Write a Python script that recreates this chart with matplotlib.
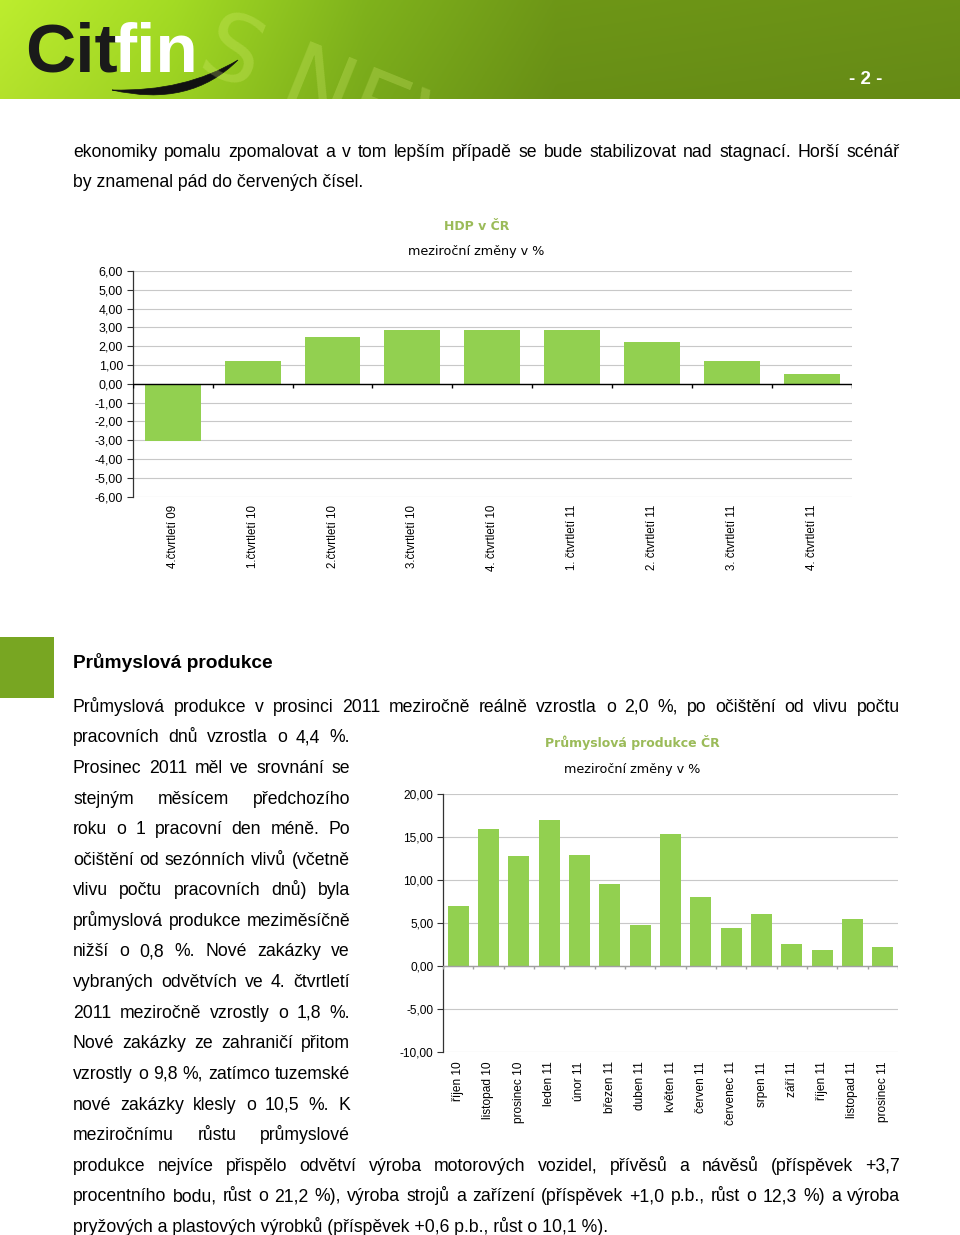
import numpy as np
import matplotlib
matplotlib.use("Agg")
import matplotlib.pyplot as plt
from matplotlib.patches import Rectangle, PathPatch
from matplotlib.path import Path

# page size in pixels
W, H = 960, 1235

# HDP v ČR - year-on-year change in %
hdp_labels = ["4.čtvrtletí 09", "1.čtvrtletí 10", "2.čtvrtletí 10", "3.čtvrtletí 10",
              "4. čtvrtletí 10", "1. čtvrtletí 11", "2. čtvrtletí 11", "3. čtvrtletí 11",
              "4. čtvrtletí 11"]
hdp_values = [-3.05, 1.24, 2.48, 2.85, 2.85, 2.85, 2.23, 1.24, 0.51]

# Průmyslová produkce ČR - year-on-year change in %
prum_labels = ["říjen 10", "listopad 10", "prosinec 10", "leden 11", "únor 11", "březen 11",
               "duben 11", "květen 11", "červen 11", "červenec 11", "srpen 11", "září 11",
               "říjen 11", "listopad 11", "prosinec 11"]
prum_values = [7.0, 15.9, 12.75, 16.95, 12.95, 9.55, 4.8, 15.3, 8.0, 4.45, 6.0, 2.5, 1.8, 5.45, 2.15]

BAR_GREEN = "#92D050"
TITLE_GREEN = "#9BBB59"
BODY = dict(fontsize=12.7, family="Liberation Sans", va="baseline", color="black")

fig = plt.figure(figsize=(W / 100, H / 100), dpi=100)
renderer = fig.canvas.get_renderer()


def fx(px):
    return px / W


def fy(py):
    return 1 - py / H


def line(text, x0, y, x1=None, **kw):
    """Write one line of body text; justify it between x0 and x1 if x1 is given."""
    kw = {**BODY, **kw}
    if x1 is None:
        fig.text(fx(x0), fy(y), text, **kw)
        return
    words = text.split(" ")
    objs = [fig.text(0, fy(y), w, **kw) for w in words]
    widths = [o.get_window_extent(renderer).width for o in objs]
    gap = (x1 - x0 - sum(widths)) / (len(words) - 1)
    x = x0
    for o, w in zip(objs, widths):
        o.set_x(fx(x))
        x += w + gap


# ---- header banner ----
hdr = fig.add_axes([0, fy(99), 1, 99 / H])
xs = np.linspace(0, 1, 400)
stops = [0.0, 0.18, 0.38, 0.58, 1.0]
cols = np.array([[0.74, 0.93, 0.18], [0.64, 0.86, 0.14], [0.50, 0.70, 0.11],
                 [0.43, 0.59, 0.09], [0.42, 0.57, 0.09]])
row = np.stack([np.interp(xs, stops, cols[:, c]) for c in range(3)], axis=1)
shade = np.linspace(1.0, 0.95, 60)[:, None, None]
grad = np.clip(row[None, :, :] * shade, 0, 1)
hdr.imshow(grad, extent=[0, W, 99, 0], aspect="auto")
hdr.set_xlim(0, W)
hdr.set_ylim(99, 0)
hdr.axis("off")
hdr.text(222, 2, "S NEWS", fontsize=66, color="#DDF27A", alpha=0.25, rotation=-22,
         family="DejaVu Sans", ha="left", va="top", rotation_mode="anchor", clip_on=True)
cit = hdr.text(25, 72, "Cit", fontsize=50, weight="bold", color="#1A1A1A",
               family="Liberation Sans", va="baseline")
cw = cit.get_window_extent(renderer).width
hdr.text(25 + cw - 4, 72, "fin", fontsize=50, weight="bold", color="white",
         family="Liberation Sans", va="baseline")
swoosh = Path([(112, 90), (190, 108), (238, 60), (185, 92), (112, 90)],
              [Path.MOVETO, Path.CURVE3, Path.CURVE3, Path.CURVE3, Path.CURVE3])
hdr.add_patch(PathPatch(swoosh, facecolor="#111111", edgecolor="#111111", lw=0.5))
hdr.text(866, 84, "- 2 -", color="white", weight="bold", fontsize=13.5,
         family="Liberation Sans", ha="center", va="baseline")

# ---- text above first chart ----
line("ekonomiky pomalu zpomalovat a v tom lepším případě se bude stabilizovat nad stagnací. Horší scénář",
     73, 156.7, 900)
line("by znamenal pád do červených čísel.", 73, 187.3)

# ---- chart 1: HDP v ČR ----
fig.text(fx(477), fy(227), "HDP v ČR", color=TITLE_GREEN, weight="bold", fontsize=9,
         family="DejaVu Sans", ha="center", va="center")
fig.text(fx(476), fy(252), "meziroční změny v %", color="black", fontsize=9.2,
         family="DejaVu Sans", ha="center", va="center")

ax1 = fig.add_axes([fx(132.7), fy(496.7), (852 - 132.7) / W, (496.7 - 271) / H])
x1 = np.arange(len(hdp_values))
ax1.bar(x1, hdp_values, width=0.7, color=BAR_GREEN, zorder=3)
ax1.set_xlim(-0.5, len(x1) - 0.5)
ax1.set_ylim(-6, 6)
ax1.set_yticks(np.arange(-6, 7, 1))
ax1.yaxis.set_major_formatter(lambda v, p: f"{v:.2f}".replace(".", ","))
ax1.grid(axis="y", color="#C8C8C8", lw=0.8)
ax1.set_axisbelow(True)
ax1.axhline(0, color="black", lw=1, zorder=4)
ax1.vlines(np.arange(len(x1) + 1) - 0.5, -0.22, 0, color="black", lw=1, zorder=4)
ax1.set_xticks(x1, hdp_labels, rotation=90, va="top", ha="center")
ax1.tick_params(axis="x", length=0, pad=6, labelsize=8.3)
ax1.tick_params(axis="y", length=4, width=0.8, pad=3, labelsize=9, color="#333333")
for lab in ax1.get_xticklabels() + ax1.get_yticklabels():
    lab.set_family("Liberation Sans")
for s in ["top", "right", "bottom"]:
    ax1.spines[s].set_visible(False)
ax1.spines["left"].set_color("#333333")
ax1.spines["left"].set_linewidth(0.9)

# ---- section heading ----
fig.patches.append(Rectangle((0, fy(697.7)), fx(54), 60.7 / H, transform=fig.transFigure,
                             facecolor="#78A622", edgecolor="none"))
line("Průmyslová produkce", 73, 668.3, fontsize=13.8, weight="bold")

# ---- paragraph ----
b0 = 711.7
step = 30.6
line("Průmyslová produkce v prosinci 2011 meziročně reálně vzrostla o 2,0 %, po očištění od vlivu počtu",
     73, b0, 900)
line("pracovních dnů vzrostla o 4,4 %.", 73, b0 + step, 350)
left_col = ["Prosinec 2011 měl ve srovnání se", "stejným měsícem předchozího",
            "roku o 1 pracovní den méně. Po", "očištění od sezónních vlivů (včetně",
            "vlivu počtu pracovních dnů) byla", "průmyslová produkce meziměsíčně",
            "nižší o 0,8 %. Nové zakázky ve", "vybraných odvětvích ve 4. čtvrtletí",
            "2011 meziročně vzrostly o 1,8 %.", "Nové zakázky ze zahraničí přitom",
            "vzrostly o 9,8 %, zatímco tuzemské", "nové zakázky klesly o 10,5 %. K",
            "meziročnímu růstu průmyslové"]
for i, t in enumerate(left_col):
    line(t, 73, b0 + step * (i + 2), 350)
line("produkce nejvíce přispělo odvětví výroba motorových vozidel, přívěsů a návěsů (příspěvek +3,7",
     73, b0 + step * 15, 900)
line("procentního bodu, růst o 21,2 %), výroba strojů a zařízení (příspěvek +1,0 p.b., růst o 12,3 %) a výroba",
     73, b0 + step * 16, 900)
line("pryžových a plastových výrobků (příspěvek +0,6 p.b., růst o 10,1 %).", 73, b0 + step * 17)

# ---- chart 2: Průmyslová produkce ČR ----
fig.text(fx(632), fy(742), "Průmyslová produkce ČR", color=TITLE_GREEN, weight="bold",
         fontsize=9, family="DejaVu Sans", ha="center", va="center")
fig.text(fx(632), fy(769), "meziroční změny v %", color="black", fontsize=9.2,
         family="DejaVu Sans", ha="center", va="center")

ax2 = fig.add_axes([fx(443), fy(1051.7), (898 - 443) / W, (1051.7 - 794) / H])
x2 = np.arange(len(prum_values))
ax2.bar(x2, prum_values, width=0.69, color=BAR_GREEN, zorder=3)
ax2.set_xlim(-0.5, len(x2) - 0.5)
ax2.set_ylim(-10, 20)
ax2.set_yticks(np.arange(-10, 21, 5))
ax2.yaxis.set_major_formatter(lambda v, p: f"{v:.2f}".replace(".", ","))
ax2.grid(axis="y", color="#C8C8C8", lw=0.8)
ax2.set_axisbelow(True)
ax2.axhline(0, color="#A0A0A0", lw=1, zorder=4)
ax2.vlines(np.arange(len(x2) + 1) - 0.5, -0.4, 0, color="#A0A0A0", lw=1, zorder=4)
ax2.set_xticks(x2, prum_labels, rotation=90, va="top", ha="center")
ax2.tick_params(axis="x", length=0, pad=7, labelsize=8.6)
ax2.tick_params(axis="y", length=4, width=0.8, pad=3, labelsize=8.6, color="#333333")
for lab in ax2.get_xticklabels() + ax2.get_yticklabels():
    lab.set_family("Liberation Sans")
for s in ["top", "right", "bottom"]:
    ax2.spines[s].set_visible(False)
ax2.spines["left"].set_color("#333333")
ax2.spines["left"].set_linewidth(0.9)

fig.savefig("out.png", dpi=100, facecolor="white")
